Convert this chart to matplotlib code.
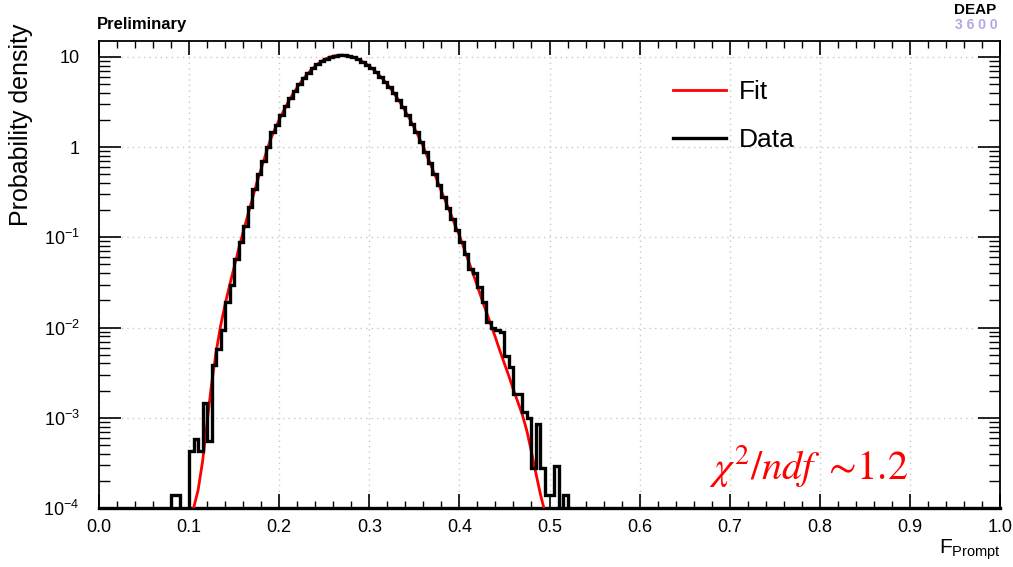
import numpy as np
import matplotlib
matplotlib.use("Agg")
import matplotlib.pyplot as plt

plt.rcParams['font.family'] = ['Liberation Sans', 'DejaVu Sans']
plt.rcParams['mathtext.fontset'] = 'custom'
plt.rcParams['mathtext.rm'] = 'Liberation Sans'
plt.rcParams['mathtext.it'] = 'Liberation Sans:italic'
plt.rcParams['mathtext.bf'] = 'Liberation Sans:bold'

# ---------------- data ----------------
bin_lo = 0.075
bin_width = 0.005
data_density = [
    0, 1.4e-4, 1.4e-4, 0, 0, 4.3e-4, 5.8e-4, 4.3e-4, 1.45e-3, 5.5e-4,
    3.8e-3, 5.75e-3, 9.3e-3, 1.9e-2, 3.0e-2, 5.75e-2, 8.9e-2, 0.135, 0.219, 0.347,
    0.50, 0.71, 1.0, 1.48, 1.78, 2.26, 2.83, 3.48, 4.21, 4.99,
    5.82, 6.67, 7.50, 8.28, 8.99, 9.59, 10.05, 10.35, 10.47, 10.40,
    10.2, 9.86, 9.42, 8.87, 8.22, 7.53, 6.79, 6.05, 5.32, 4.60,
    3.94, 3.31, 2.75, 2.26, 1.82, 1.46, 1.14, 0.875, 0.661, 0.501,
    0.376, 0.282, 0.214, 0.160, 0.120, 0.0891, 0.0646, 0.0447, 0.0398, 0.0282,
    0.0191, 0.0115, 0.0100, 0.0093, 0.0089, 0.0049, 0.0037, 0.00182, 0.00182, 0.00115,
    0.0010, 0.00028, 0.00085, 0.00028, 0.00014, 0.00014, 0.00029, 0, 0.00014, 0,
]

fit_x_start = 0.095
fit_step = 0.005
fit_density = [
    1.0e-5, 3.98e-5, 1.0e-4, 1.58e-4, 3.31e-4, 8.91e-4, 2.40e-3, 5.37e-3, 1.05e-2, 1.82e-2,
    2.95e-2, 4.68e-2, 7.41e-2, 0.115, 0.174, 0.263, 0.398, 0.575, 0.832, 1.19,
    1.56, 2.01, 2.54, 3.16, 3.85, 4.60, 5.41, 6.25, 7.10, 7.91,
    8.67, 9.33, 9.86, 10.2, 10.4, 10.5, 10.3, 10.1, 9.66, 9.16,
    8.57, 7.89, 7.18, 6.43, 5.69, 4.97, 4.27, 3.62, 3.03, 2.50,
    2.04, 1.63, 1.29, 1.01, 0.759, 0.575, 0.437, 0.324, 0.245, 0.186,
    0.138, 0.105, 7.59e-2, 5.50e-2, 3.98e-2, 2.88e-2, 2.04e-2, 1.48e-2, 1.07e-2, 7.76e-3,
    5.50e-3, 3.98e-3, 2.88e-3, 2.04e-3, 1.48e-3, 1.07e-3, 7.08e-4, 4.17e-4, 2.40e-4, 1.41e-4,
    8.91e-5, 3.98e-5, 1.0e-5,
]

xticks = [0.0, 0.1, 0.2, 0.3, 0.4, 0.5, 0.6, 0.7, 0.8, 0.9, 1.0]
xticklabels = ["0.0", "0.1", "0.2", "0.3", "0.4", "0.5", "0.6", "0.7", "0.8", "0.9", "1.0"]
yticks = [1e-4, 1e-3, 1e-2, 1e-1, 1, 10]
yticklabels = [r"$10^{-4}$", r"$10^{-3}$", r"$10^{-2}$", r"$10^{-1}$", "1", "10"]

# ---------------- figure ----------------
W, H = 1013, 567
fig = plt.figure(figsize=(W / 100, H / 100), dpi=100)
ax = fig.add_axes([99 / W, 1 - 508 / H, (1000 - 99) / W, (508 - 41) / H])

edges = bin_lo + bin_width * np.arange(len(data_density) + 1)
vals = np.array(data_density, dtype=float)
vals_draw = np.where(vals > 0, vals, 1e-9)

fit_x = fit_x_start + fit_step * np.arange(len(fit_density))

ax.plot(fit_x, fit_density, color='#ff0000', lw=2.0, label='Fit', zorder=3)
ax.stairs(vals_draw, edges, baseline=None, color='black', lw=2.4, label='Data', zorder=4)

ax.set_yscale('log')
ax.set_xlim(0, 1)
ax.set_ylim(1e-4, 15.0)

ax.set_xticks(xticks)
ax.set_xticklabels(xticklabels)
ax.set_xticks(np.arange(0, 1.0001, 0.02), minor=True)
ax.xaxis.set_minor_formatter(matplotlib.ticker.NullFormatter())
ax.set_yticks(yticks)
ax.set_yticklabels(yticklabels)
ax.yaxis.set_minor_locator(matplotlib.ticker.LogLocator(base=10, subs=np.arange(2, 10)))
ax.yaxis.set_minor_formatter(matplotlib.ticker.NullFormatter())

ax.tick_params(which='both', direction='in', top=True, right=True, colors='black', labelsize=13)
ax.tick_params(axis='x', which='major', length=10, width=1.2, pad=8)
ax.tick_params(axis='x', which='minor', length=5, width=1.0)
ax.tick_params(axis='y', which='major', length=16, width=1.2, pad=14)
ax.tick_params(axis='y', which='minor', length=8, width=1.0)

for s in ax.spines.values():
    s.set_linewidth(1.3)
ax.spines['bottom'].set_linewidth(2.4)

ax.grid(True, which='major', color='#c8c8c8', linestyle=(0, (1, 3)), lw=1.0)
ax.set_axisbelow(True)

leg = ax.legend(handles=ax.get_legend_handles_labels()[0],
                loc='upper left', bbox_to_anchor=(673 / W, 1 - 80 / H),
                bbox_transform=fig.transFigure, frameon=False, fontsize=19,
                handlelength=2.0, handletextpad=0.5, labelspacing=0.9,
                borderpad=0, borderaxespad=0)

fig.text(21 / W, 1 - 125 / H, 'Probability density', rotation=90,
         ha='center', va='center', fontsize=18)
fig.text(1001 / W, 1 - 550 / H, r'F$_{\mathrm{Prompt}}$', ha='right', va='center', fontsize=15)
fig.text(97 / W, 1 - 25 / H, 'Preliminary', ha='left', va='center', fontsize=12, fontweight='bold')
fig.text(975 / W, 1 - 10 / H, 'DEAP', ha='center', va='center', fontsize=11, fontweight='bold')
fig.text(976 / W, 1 - 25 / H, '3 6 0 0', ha='center', va='center', fontsize=10,
         fontweight='bold', color='#b9a3e3', zorder=-1)

ax.text(0.787, 0.09, r'$\chi^2/ndf\ \sim\!1.2$', transform=ax.transAxes,
        ha='center', va='center', fontsize=29, color='#ff0000', math_fontfamily='stix')

fig.savefig('out.png', dpi=100)
